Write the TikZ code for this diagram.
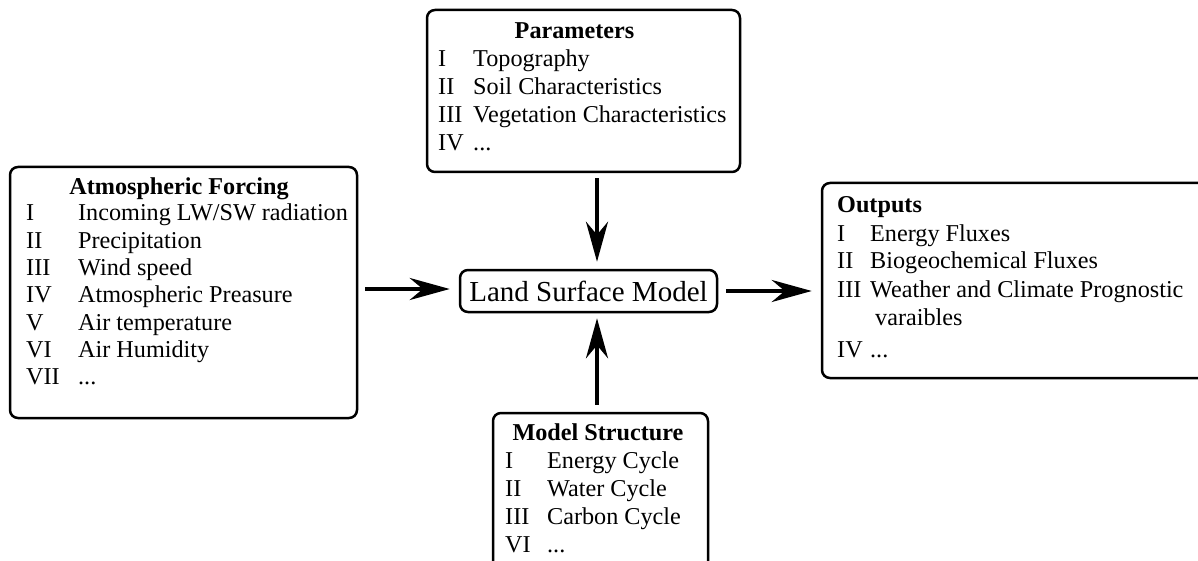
\documentclass[tikz,border=0pt]{standalone}
\usepackage{fontspec}
\setmainfont{Liberation Serif}
\usetikzlibrary{arrows.meta}
\begin{document}
\begin{tikzpicture}[x=1pt,y=-1pt,
  box/.style={draw,line width=2.5pt,rounded corners=8pt,inner sep=0pt},
  txt/.style={inner sep=0pt,font=\fontsize{24.2}{28}\selectfont},
  ttl/.style={txt,anchor=base,font=\fontsize{24.2}{28}\selectfont\bfseries},
  arr/.style={line width=4pt,-{Stealth[length=40pt,width=22pt,inset=13pt]}}]
\useasboundingbox (0,0) rectangle (1198,561);
% boxes
\node[box,minimum width=347pt,minimum height=251pt] (atmos) at (183.5,292.5) {};
\node[box,minimum width=313pt,minimum height=162pt] (params) at (583.5,91) {};
\node[box,minimum width=393pt,minimum height=195pt] (outs) at (1018.5,280.5) {};
\node[box,minimum width=215pt,minimum height=167pt] (model) at (600.5,496.5) {};
\node[box,minimum width=257pt,minimum height=42pt,font=\fontsize{29}{32}\selectfont] (lsm) at (588.5,291) {Land Surface Model};
% titles
\node[ttl] (atmosT) at (179,195) {Atmospheric Forcing};
\node[ttl] (paramsT) at (574.5,39) {Parameters};
\node[ttl,anchor=base west] (outsT) at (837,213) {Outputs};
\node[ttl] (modelT) at (598,440) {Model Structure};
% lists
\node[txt,anchor=base west,font=\fontsize{24.2}{27.3}\selectfont] (atmosL) at (26,221) {\begin{tabular}[t]{@{}p{52pt}@{}l@{}}
I & Incoming LW/SW radiation\\
II & Precipitation\\
III & Wind speed\\
IV & Atmospheric Preasure\\
V & Air temperature\\
VI & Air Humidity\\
VII & ...
\end{tabular}};
\node[txt,anchor=base west] (paramsL) at (438,67) {\begin{tabular}[t]{@{}p{35pt}@{}l@{}}
I & Topography\\
II & Soil Characteristics\\
III & Vegetation Characteristics\\
IV & ...
\end{tabular}};
\node[txt,anchor=base west] (outsL) at (837,241) {\begin{tabular}[t]{@{}p{33pt}@{}l@{}}
I & Energy Fluxes\\
II & Biogeochemical Fluxes\\
III & Weather and Climate Prognostic\\
 & \hspace{5pt}varaibles\\[4pt]
IV & ...
\end{tabular}};
\node[txt,anchor=base west] (modelL) at (505,468) {\begin{tabular}[t]{@{}p{42pt}@{}l@{}}
I & Energy Cycle\\
II & Water Cycle\\
III & Carbon Cycle\\
VI & ...
\end{tabular}};
% arrows
\draw[arr] ([xshift=13.5pt,yshift=-5pt]params.south) -- ([xshift=8.5pt,yshift=7pt]lsm.north);
\draw[arr] ([xshift=-3.5pt,yshift=7pt]model.north) -- ([xshift=8.5pt,yshift=-5pt]lsm.south);
\draw[arr] ([xshift=7pt,yshift=3.5pt]atmos.east) -- ([xshift=-9pt,yshift=2pt]lsm.west);
\draw[arr] ([xshift=8pt]lsm.east) -- ([xshift=-9pt,yshift=-10.5pt]outs.west);
\end{tikzpicture}
\end{document}
